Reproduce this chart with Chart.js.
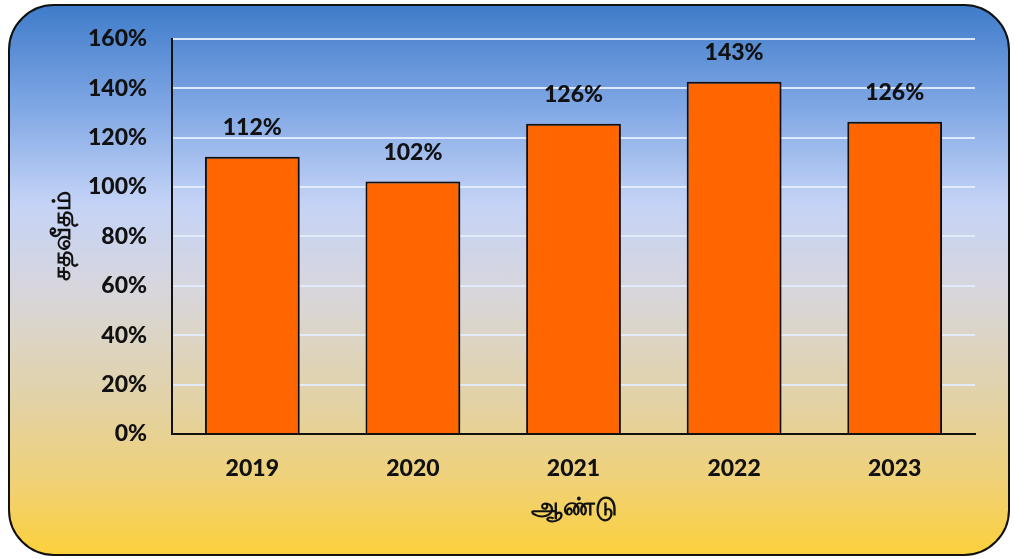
<!DOCTYPE html>
<html>
<head>
<meta charset="utf-8">
<script src="https://cdn.jsdelivr.net/npm/chart.js@4"></script>
<style>
  html, body { margin: 0; padding: 0; background: #ffffff; }
  body { width: 1015px; height: 559px; position: relative; overflow: hidden; }
  .frame {
    position: absolute; left: 8px; top: 4px; width: 998px; height: 548px;
    border: 2px solid #111; border-radius: 46px;
    background: linear-gradient(to bottom,
      #3f7cca 0%, #7ea6e4 18%, #c4d3f6 36%, #d8d6dc 52%, #e2d2a6 72%, #efd17a 86%, #fcd03c 100%);
  }
  #wrap { position: absolute; left: 0; top: 0; width: 1015px; height: 559px; }
</style>
</head>
<body>
<div class="frame"></div>
<div id="wrap"><canvas id="chart" width="1015" height="559"></canvas></div>
<script>
// data
const years = ['2019', '2020', '2021', '2022', '2023'];
const percentValues = [112.2, 102.2, 125.6, 142.6, 126.4];
const yTicks = [0, 20, 40, 60, 80, 100, 120, 140, 160];

const FONT = "Lato, 'Noto Sans', sans-serif";

// value labels above each bar
const barLabels = {
    id: 'barLabels',
    afterDatasetsDraw(chart) {
        const ctx = chart.ctx;
        const meta = chart.getDatasetMeta(0);
        ctx.save();
        ctx.font = '900 23px ' + FONT;
        ctx.fillStyle = '#111';
        ctx.textAlign = 'center';
        ctx.textBaseline = 'middle';
        meta.data.forEach((bar, i) => {
            ctx.fillText(Math.round(percentValues[i]) + '%', bar.x, bar.y - 29);
        });
        ctx.restore();
    }
};

// soft shadow behind the bars
const barShadow = {
    id: 'barShadow',
    beforeDatasetDraw(chart) {
        const ctx = chart.ctx;
        ctx.save();
        ctx.shadowColor = 'rgba(0,0,0,0.4)';
        ctx.shadowBlur = 8;
        ctx.shadowOffsetX = 2;
        ctx.shadowOffsetY = 2;
    },
    afterDatasetDraw(chart) {
        chart.ctx.restore();
    }
};

new Chart(document.getElementById('chart'), {
    type: 'bar',
    data: {
        labels: years,
        datasets: [{
            data: percentValues,
            backgroundColor: '#ff6600',
            borderColor: '#111',
            borderWidth: 2,
            barPercentage: 0.59,
            categoryPercentage: 1
        }]
    },
    options: {
        responsive: false,
        animation: false,
        devicePixelRatio: 1,
        layout: { padding: { left: 0, top: 38, right: 40, bottom: 0 } },
        plugins: {
            legend: { display: false },
            tooltip: { enabled: false }
        },
        scales: {
            x: {
                grid: { display: false, drawTicks: false },
                border: { display: true, color: '#111', width: 2 },
                ticks: {
                    color: '#111',
                    padding: 21,
                    font: { family: FONT, size: 23, weight: '900' }
                },
                title: {
                    display: true,
                    text: 'ஆண்டு',
                    color: '#111',
                    padding: { top: 0, bottom: 37 },
                    font: { family: FONT, size: 25, weight: 'bold' }
                },
                afterFit(scale) { scale.height = 125; }
            },
            y: {
                min: 0,
                max: 160,
                afterBuildTicks(scale) {
                    scale.ticks = yTicks.map(v => ({ value: v }));
                },
                grid: {
                    color: 'rgba(225,236,252,0.95)',
                    lineWidth: 2,
                    drawTicks: false
                },
                border: { display: true, color: '#111', width: 2 },
                ticks: {
                    color: '#111',
                    padding: 25,
                    font: { family: FONT, size: 23, weight: '900' },
                    callback: v => v + '%'
                },
                title: {
                    display: true,
                    text: 'சதவீதம்',
                    color: '#111',
                    padding: { top: 47, bottom: 0 },
                    font: { family: FONT, size: 25, weight: 'bold' }
                },
                afterFit(scale) { scale.width = 172; }
            }
        }
    },
    plugins: [barShadow, barLabels]
});
</script>
</body>
</html>
